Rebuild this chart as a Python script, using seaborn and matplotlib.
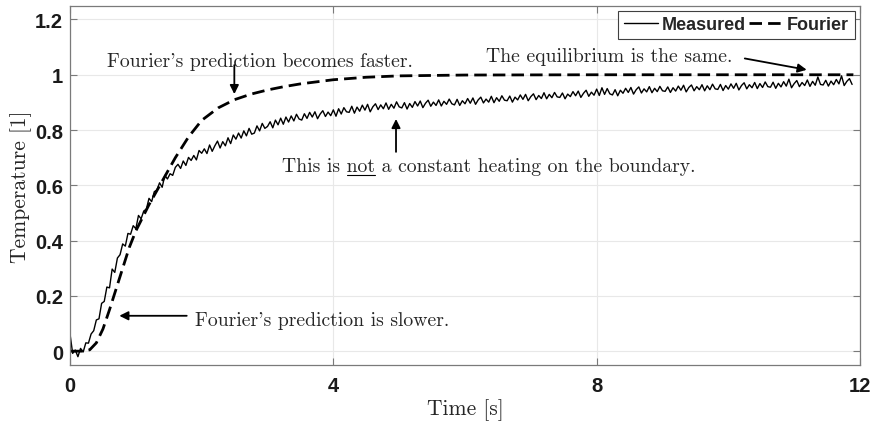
#! /usr/bin/env python3
# imports
import matplotlib
matplotlib.use('Agg')
from matplotlib import rcParams
import matplotlib.pyplot as plt
import numpy as np
import seaborn as sns

# settings
sns.set_style("ticks")
rcParams['font.family'] = ['Liberation Sans', 'DejaVu Sans']
SERIF = ['cmr10', 'DejaVu Serif']
SANS = ['Liberation Sans', 'DejaVu Sans']
EDGE = '#7a7a7a'

# data: measured temperature, sampled every 0.04 s from t = 0
dt = 0.04
temp_measured = [
    0.062, -0.008, 0.004, -0.020, 0.010, -0.003, 0.030, 0.029, 0.062, 0.074,
    0.113, 0.117, 0.173, 0.180, 0.232, 0.229, 0.297, 0.285, 0.337, 0.349,
    0.388, 0.380, 0.426, 0.423, 0.454, 0.443, 0.491, 0.479, 0.507, 0.514,
    0.553, 0.541, 0.577, 0.583, 0.609, 0.593, 0.636, 0.623, 0.642, 0.636,
    0.665, 0.676, 0.661, 0.688, 0.672, 0.701, 0.690, 0.708, 0.692, 0.726,
    0.716, 0.732, 0.715, 0.746, 0.723, 0.743, 0.760, 0.735, 0.758, 0.743,
    0.772, 0.751, 0.782, 0.767, 0.789, 0.771, 0.797, 0.779, 0.806, 0.785,
    0.789, 0.815, 0.797, 0.824, 0.806, 0.813, 0.830, 0.808, 0.836, 0.819,
    0.843, 0.821, 0.847, 0.829, 0.851, 0.833, 0.857, 0.840, 0.836, 0.859,
    0.842, 0.864, 0.847, 0.866, 0.841, 0.858, 0.870, 0.849, 0.865, 0.852,
    0.873, 0.850, 0.877, 0.858, 0.881, 0.866, 0.864, 0.886, 0.861, 0.883,
    0.868, 0.890, 0.872, 0.893, 0.866, 0.884, 0.895, 0.874, 0.891, 0.877,
    0.898, 0.875, 0.893, 0.879, 0.902, 0.884, 0.880, 0.899, 0.876, 0.896,
    0.882, 0.903, 0.887, 0.905, 0.881, 0.897, 0.908, 0.886, 0.901, 0.889,
    0.909, 0.887, 0.904, 0.893, 0.912, 0.895, 0.891, 0.911, 0.889, 0.906,
    0.895, 0.914, 0.897, 0.916, 0.893, 0.909, 0.919, 0.898, 0.912, 0.901,
    0.922, 0.899, 0.917, 0.904, 0.924, 0.908, 0.906, 0.923, 0.901, 0.919,
    0.909, 0.927, 0.911, 0.929, 0.906, 0.921, 0.931, 0.910, 0.925, 0.914,
    0.935, 0.913, 0.929, 0.917, 0.936, 0.920, 0.918, 0.934, 0.913, 0.930,
    0.921, 0.939, 0.924, 0.941, 0.918, 0.933, 0.944, 0.922, 0.937, 0.926,
    0.948, 0.925, 0.953, 0.929, 0.950, 0.931, 0.927, 0.946, 0.924, 0.944,
    0.933, 0.951, 0.936, 0.954, 0.930, 0.946, 0.956, 0.934, 0.949, 0.938,
    0.957, 0.935, 0.951, 0.939, 0.958, 0.942, 0.940, 0.956, 0.936, 0.953,
    0.941, 0.959, 0.944, 0.962, 0.938, 0.954, 0.963, 0.942, 0.957, 0.946,
    0.964, 0.942, 0.960, 0.946, 0.966, 0.949, 0.947, 0.965, 0.943, 0.961,
    0.948, 0.967, 0.951, 0.969, 0.945, 0.961, 0.971, 0.949, 0.964, 0.953,
    0.972, 0.950, 0.968, 0.954, 0.974, 0.957, 0.955, 0.973, 0.951, 0.969,
    0.956, 0.975, 0.959, 0.984, 0.953, 0.968, 0.979, 0.957, 0.972, 0.961,
    0.981, 0.958, 0.976, 0.962, 0.992, 0.965, 0.963, 0.980, 0.959, 0.977,
    0.964, 0.983, 0.967, 0.996, 0.961, 0.976, 0.986, 0.965,
]
time_measured = np.arange(len(temp_measured)) * dt

# data: Fourier prediction
time_fourier = [0.0, 0.2, 0.3, 0.4, 0.5, 0.6, 0.7, 0.8, 0.9, 1.0, 1.2, 1.4, 1.6,
                1.8, 2.0, 2.25, 2.5, 2.75, 3.0, 3.25, 3.5, 4.0, 4.5, 5.0, 6.0,
                8.0, 10.0, 11.9]
temp_fourier = [0.0, 0.0, 0.005, 0.03, 0.08, 0.15, 0.225, 0.30, 0.375, 0.435,
                0.53, 0.615, 0.70, 0.775, 0.835, 0.88, 0.91, 0.93, 0.945,
                0.957, 0.967, 0.982, 0.991, 0.996, 0.999, 1.0, 1.0, 1.0]

x_ticks = [0, 4, 8, 12]
x_tick_labels = ['0', '4', '8', '12']
y_ticks = [0, 0.2, 0.4, 0.6, 0.8, 1.0, 1.2]
y_tick_labels = ['0', '0.2', '0.4', '0.6', '0.8', '1', '1.2']

# create plot
fig = plt.figure(figsize=(8.73, 4.27), dpi=100)
ax = fig.add_axes([0.0802, 0.1429, 0.9049, 0.8415])
sns.lineplot(x=time_measured, y=temp_measured, ax=ax, color='black', lw=1.0,
             label='Measured', sort=False)
sns.lineplot(x=time_fourier, y=temp_fourier, ax=ax, color='black', lw=2.0,
             label='Fourier', sort=False)
ax.lines[1].set_dashes((4.5, 2.2))

ax.set_xlim(0, 12)
ax.set_ylim(-0.05, 1.25)
ax.set_xticks(x_ticks)
ax.set_xticklabels(x_tick_labels)
ax.set_yticks(y_ticks)
ax.set_yticklabels(y_tick_labels)
ax.grid(True, color='#e8e8e8', lw=0.8)
ax.set_axisbelow(True)
for s in ax.spines.values():
    s.set_visible(True)
    s.set_color(EDGE)
    s.set_linewidth(0.9)
ax.tick_params(direction='in', top=True, right=True, length=5, width=0.8,
               color=EDGE, labelsize=14.5)
ax.tick_params(axis='x', pad=8)
ax.tick_params(axis='y', pad=5)
for lab in ax.get_xticklabels() + ax.get_yticklabels():
    lab.set_fontweight('bold')
    lab.set_color('#1a1a1a')
ax.set_xlabel('Time [s]', fontsize=15.5, family=SERIF, labelpad=2)
ax.set_ylabel('Temperature [1]', fontsize=15.5, family=SERIF, labelpad=2)

leg = ax.legend(loc='upper right', ncol=2, frameon=True, fancybox=False,
                framealpha=1, edgecolor='#404040', borderpad=0.3,
                handlelength=1.9, handletextpad=0.2, columnspacing=0.2,
                borderaxespad=0.3,
                prop={'family': SANS, 'weight': 'bold', 'size': 13})
leg.get_frame().set_linewidth(0.8)

# annotations
FS = 14.2
arrow = dict(arrowstyle='-|>', lw=1.3, color='black', mutation_scale=13,
             shrinkA=0, shrinkB=0)
ax.text(2.889, 1.0325, "Fourier's prediction becomes faster.", ha='center',
        va='baseline', fontsize=FS, family=SERIF)
ax.annotate('', xy=(2.496, 0.930), xytext=(2.496, 1.035), arrowprops=arrow)

note_not = ax.text(6.368, 0.653, "This is not a constant heating on the boundary.",
                   ha='center', va='baseline', fontsize=FS, family=SERIF)
ax.annotate('', xy=(4.952, 0.840), xytext=(4.952, 0.721), arrowprops=arrow)

ax.text(8.19, 1.0505, "The equilibrium is the same.", ha='center',
        va='baseline', fontsize=FS, family=SERIF)
ax.annotate('', xy=(11.19, 1.018), xytext=(10.25, 1.059), arrowprops=arrow)

ax.text(1.899, 0.0964, "Fourier's prediction is slower.", ha='left',
        va='baseline', fontsize=FS, family=SERIF)
ax.annotate('', xy=(0.749, 0.128), xytext=(1.773, 0.128), arrowprops=arrow)

# underline the word "not"
fig.canvas.draw()
r = fig.canvas.get_renderer()
bb = note_not.get_window_extent(r)
probe = ax.text(0, 0, 'This is not', fontsize=FS, family=SERIF)
w_pre = probe.get_window_extent(r).width
probe.set_text('not')
w_not = probe.get_window_extent(r).width
probe.remove()
base_y = ax.transData.transform((6.368, 0.653))[1] - 4
inv = ax.transData.inverted()
p0 = inv.transform((bb.x0 + w_pre - w_not, base_y))
p1 = inv.transform((bb.x0 + w_pre, base_y))
ax.plot([p0[0], p1[0]], [p0[1], p1[1]], color='black', lw=0.8)

fig.savefig('out.png', dpi=100)
plt.close()
